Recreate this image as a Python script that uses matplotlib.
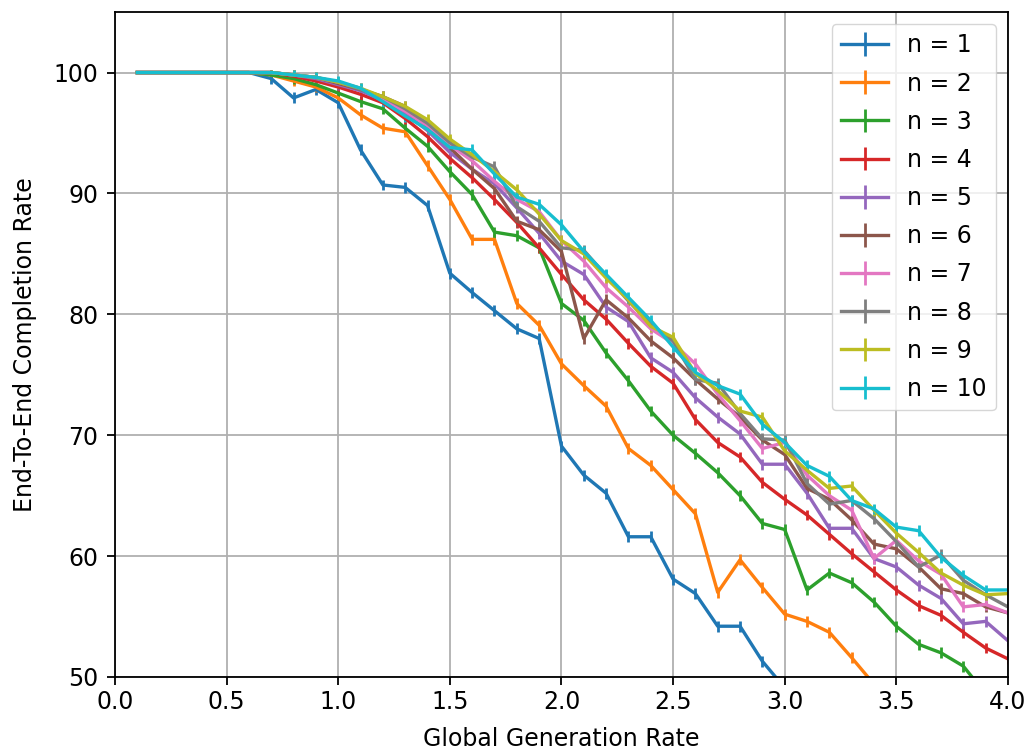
import numpy as np
import matplotlib
matplotlib.use("Agg")
from matplotlib import pyplot as plt

# global generation rate (x axis)
rate = [round(0.1 * i, 1) for i in range(1, 41)]

top = [100.0] * 6

n1 = top + [99.5, 97.9, 98.6, 97.5, 93.6, 90.7, 90.5, 89.0, 83.4, 81.8,
            80.3, 78.8, 78.0, 69.1, 66.7, 65.2, 61.6, 61.6, 58.1, 56.9,
            54.2, 54.2, 51.3, 49.1]
n2 = top + [99.8, 99.3, 98.8, 97.9, 96.5, 95.4, 95.1, 92.3, 89.5, 86.2,
            86.2, 80.9, 79.1, 75.9, 74.1, 72.4, 68.9, 67.5, 65.5, 63.5,
            57.0, 59.7, 57.4, 55.2, 54.6, 53.7, 51.6, 49.4]
n3 = top + [99.8, 99.5, 99.0, 98.3, 97.6, 97.0, 95.4, 93.9, 91.8, 89.9,
            86.8, 86.5, 85.5, 80.9, 79.5, 76.8, 74.5, 72.0, 70.0, 68.5,
            66.9, 65.0, 62.7, 62.2, 57.2, 58.6, 57.8, 56.2, 54.2, 52.7,
            52.0, 50.9, 48.6]
n4 = top + [100.0, 99.7, 99.3, 98.8, 98.2, 97.5, 96.2, 94.7, 92.9, 91.3,
            89.5, 87.6, 85.5, 83.3, 81.2, 79.6, 77.6, 75.7, 74.3, 71.3,
            69.4, 68.2, 66.1, 64.7, 63.4, 61.8, 60.2, 58.7, 57.2, 55.9,
            55.1, 53.7, 52.4, 51.5]
n5 = top + [100.0, 99.8, 99.5, 99.0, 98.5, 97.7, 96.6, 95.2, 93.4, 92.0,
            90.8, 88.8, 86.7, 84.4, 83.3, 80.6, 79.4, 76.4, 75.2, 73.1,
            71.5, 70.1, 67.6, 67.6, 65.2, 62.3, 62.3, 59.8, 59.1, 57.6,
            56.5, 54.4, 54.6, 53.0]
n6 = top + [100.0, 99.8, 99.6, 99.1, 98.6, 98.0, 97.2, 95.5, 93.8, 92.0,
            90.4, 87.7, 87.0, 85.2, 78.0, 81.2, 79.7, 77.8, 76.4, 74.6,
            73.0, 71.5, 69.6, 68.4, 65.6, 64.7, 63.0, 61.0, 60.6, 59.1,
            57.3, 56.9, 55.8, 55.3]
n7 = top + [100.0, 99.8, 99.6, 99.2, 98.7, 97.8, 96.8, 95.6, 94.0, 92.7,
            91.0, 89.5, 88.5, 86.1, 84.4, 82.2, 80.6, 78.8, 77.6, 75.9,
            73.4, 71.2, 68.9, 69.4, 66.7, 65.0, 63.8, 59.8, 61.3, 59.6,
            58.5, 55.8, 56.0, 55.3]
n8 = top + [100.0, 99.8, 99.6, 99.2, 98.6, 98.0, 97.0, 95.8, 94.2, 93.0,
            92.2, 88.9, 87.7, 85.5, 85.3, 83.2, 81.1, 79.2, 77.8, 74.6,
            74.3, 71.8, 69.7, 69.6, 66.0, 64.3, 64.6, 63.1, 61.2, 59.1,
            60.1, 58.0, 56.8, 55.8]
n9 = top + [100.0, 99.8, 99.6, 99.2, 98.7, 98.0, 97.2, 96.1, 94.5, 93.2,
            91.8, 90.3, 88.3, 86.1, 85.0, 83.0, 81.2, 79.0, 78.1, 75.1,
            73.7, 72.0, 71.5, 68.7, 67.1, 65.6, 65.8, 63.8, 61.9, 60.3,
            58.6, 57.6, 56.8, 56.9]
n10 = top + [100.0, 99.8, 99.6, 99.3, 98.7, 97.6, 96.4, 95.3, 93.8, 93.6,
             91.6, 89.7, 89.1, 87.4, 85.2, 83.3, 81.4, 79.5, 77.3, 75.2,
             74.1, 73.4, 70.9, 69.4, 67.5, 66.6, 64.6, 63.9, 62.4, 62.1,
             59.9, 58.4, 57.2, 57.2]

series = [n1, n2, n3, n4, n5, n6, n7, n8, n9, n10]
labels = ["n = %d" % (i + 1) for i in range(10)]

plt.rcParams['font.family'] = ['DejaVu Sans']
plt.rcParams['font.size'] = 17

fig = plt.figure(figsize=(10.32, 7.56), dpi=100)
ax = fig.add_axes([0.1114, 0.1045, 0.8653, 0.8795])

for vals, lab in zip(series, labels):
    v = np.array(vals)
    x = np.array(rate[:len(v)])
    err = np.where(v < 100, 0.45, 0.0)
    ax.errorbar(x, v, yerr=err, label=lab, linewidth=2.4,
                elinewidth=2.0, capsize=0)

ax.set_xlim(0, 4)
ax.set_ylim(50, 105)
ax.set_xticks(np.arange(0, 4.01, 0.5))
ax.set_yticks([50, 60, 70, 80, 90, 100])
ax.grid(True, color='#b0b0b0', linewidth=1.3)
ax.set_axisbelow(True)
for s in ax.spines.values():
    s.set_linewidth(1.3)
ax.tick_params(width=1.3, length=6)
ax.tick_params(axis='y', pad=6)
ax.set_xlabel("Global Generation Rate", labelpad=9)
ax.set_ylabel("End-To-End Completion Rate", labelpad=12)
ax.legend(loc='upper right', handlelength=2.0, labelspacing=0.6,
          borderaxespad=0.5)

fig.savefig("out.png", dpi=100)
